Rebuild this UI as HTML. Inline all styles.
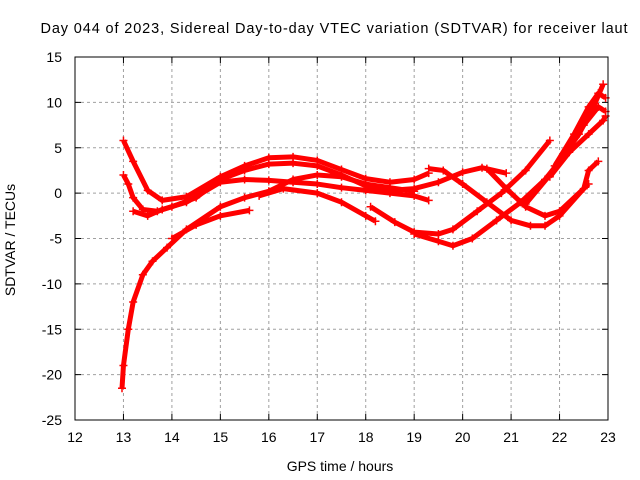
<!DOCTYPE html>
<html><head><meta charset="utf-8"><style>
body{margin:0;background:#fff}
svg{display:block;font-family:"Liberation Sans",sans-serif}
</style></head><body>
<svg id="chart" width="640" height="480" viewBox="0 0 640 480">
<rect width="640" height="480" fill="#fff"/>
<text x="334" y="33" text-anchor="middle" font-size="14.5" textLength="587">Day 044 of 2023, Sidereal Day-to-day VTEC variation (SDTVAR) for receiver laut</text>
<g id="grid"></g>
<g id="ticks"></g>
<g id="series"></g>
<rect x="75" y="57" width="533" height="363" fill="none" stroke="#000" stroke-width="1"/>
<text x="15" y="240" transform="rotate(-90 15 240)" text-anchor="middle" font-size="14">SDTVAR / TECUs</text>
<text x="340" y="471" text-anchor="middle" font-size="14">GPS time / hours</text>
</svg>
<script>
const xTicks=[12,13,14,15,16,17,18,19,20,21,22,23];
const yTicks=[15,10,5,0,-5,-10,-15,-20,-25];
const s1=[[13,5.8],[13.2,3.5],[13.5,0.3],[13.8,-0.8],[14.3,-0.4],[15,1.8],[15.5,3],[16,3.9],[16.5,4],[17,3.6],[17.5,2.6],[18,1.6],[18.5,1.2],[19,1.5],[19.3,2.2]];
const s2=[[13,2],[13.1,1],[13.2,-0.5],[13.4,-1.8],[13.7,-2],[14,-1.5],[14.5,-0.5],[15,1.5],[15.5,2.5],[16,3.2],[16.5,3.3],[17,3],[17.5,2],[18,0.8],[18.5,0.3],[19,0.5],[19.5,1.2],[20,2.3],[20.4,2.8],[20.9,2.2]];
const s3=[[13.2,-2],[13.5,-2.5],[13.8,-1.8],[14.3,-1],[15,1.2],[15.5,1.5],[16,1.4],[16.5,1.2],[17,1],[17.5,0.6],[18,0.3],[18.5,0],[19,-0.3],[19.3,-0.8]];
const s4=[[12.97,-21.5],[13,-19],[13.1,-15],[13.2,-12],[13.4,-9],[13.6,-7.5],[13.9,-6],[14.3,-4],[15,-1.5],[15.5,-0.5],[16,0.2],[16.5,1.5],[17,2],[17.5,1.8],[18,1],[18.5,0.6],[19,0.2]];
const s5=[[14,-5],[14.5,-3.5],[15,-2.5],[15.6,-1.9]];
const s6=[[15.8,-0.3],[16.3,0.5],[17,0],[17.5,-1],[18,-2.5],[18.2,-3.1]];
const s7=[[19.3,2.7],[19.6,2.5],[20,1],[20.5,-1],[21,-3],[21.4,-3.6],[21.7,-3.6],[22,-2.5],[22.5,0.5],[22.6,2.5],[22.8,3.5]];
const s8=[[20.5,2.7],[20.9,0.5],[21.3,-1.5],[21.7,-2.5],[22,-2],[22.6,1]];
const s9=[[18.1,-1.5],[18.6,-3.2],[19,-4.3],[19.5,-4.5],[19.8,-4],[20.3,-2],[20.8,0],[21.3,2.5],[21.8,5.8]];
const s10=[[19,-4.5],[19.5,-5.3],[19.8,-5.8],[20.2,-5],[20.7,-3],[21.2,-1],[21.7,1.5],[22,3.5],[22.4,6.5],[22.7,9.5],[22.9,12]];
const s11=[[21.3,-1.2],[21.8,2],[22.2,5],[22.5,7.5],[22.8,9.5],[22.95,9]];
const s12=[[21.8,1.8],[22.2,4.5],[22.6,6.5],[22.9,8],[22.95,8.5]];
const s13=[[21.9,3],[22.3,6.5],[22.6,9.5],[22.8,11],[22.95,10.5]];
const allSeries=[s1,s2,s3,s4,s5,s6,s7,s8,s9,s10,s11,s12,s13];
const X=h=>75+(h-12)*(533/11), Y=v=>57+(15-v)*(363/40);
const NS='http://www.w3.org/2000/svg';
function mk(t,a,p){const e=document.createElementNS(NS,t);for(const k in a)e.setAttribute(k,a[k]);p.appendChild(e);return e;}
const grid=document.getElementById('grid'),ticks=document.getElementById('ticks'),ser=document.getElementById('series');
xTicks.forEach(t=>{const x=X(t);
 if(t>12&&t<23){const g=mk('line',{x1:x,x2:x,y1:57,y2:420,stroke:'#a0a0a0','stroke-dasharray':'3,3'},grid);
 
 }
 mk('line',{x1:x,x2:x,y1:420,y2:414,stroke:'#000'},ticks);mk('line',{x1:x,x2:x,y1:57,y2:63,stroke:'#000'},ticks);
 const l=mk('text',{x:x,y:442,'text-anchor':'middle','font-size':'14'},ticks);l.textContent=t;
 
 });
yTicks.forEach(t=>{const y=Y(t);
 if(t<15&&t>-25){const g=mk('line',{x1:75,x2:608,y1:y,y2:y,stroke:'#a0a0a0','stroke-dasharray':'3,3'},grid);
 
 }
 mk('line',{x1:75,x2:81,y1:y,y2:y,stroke:'#000'},ticks);mk('line',{x1:608,x2:602,y1:y,y2:y,stroke:'#000'},ticks);
 const l=mk('text',{x:62,y:y+5,'text-anchor':'end','font-size':'14'},ticks);l.textContent=t;
 
 });
allSeries.forEach((s,i)=>{
 const pl=mk('polyline',{points:s.map(p=>X(p[0])+','+Y(p[1])).join(' '),fill:'none',stroke:'#f00','stroke-width':5,'stroke-linejoin':'round'},ser);
 
 
 s.forEach(p=>{const x=X(p[0]),y=Y(p[1]);
  const m=mk('path',{d:`M${x-4},${y}H${x+4}M${x},${y-4}V${y+4}`,stroke:'#f00','stroke-width':1.5},ser);
  
  });
});
</script>
</body></html>
